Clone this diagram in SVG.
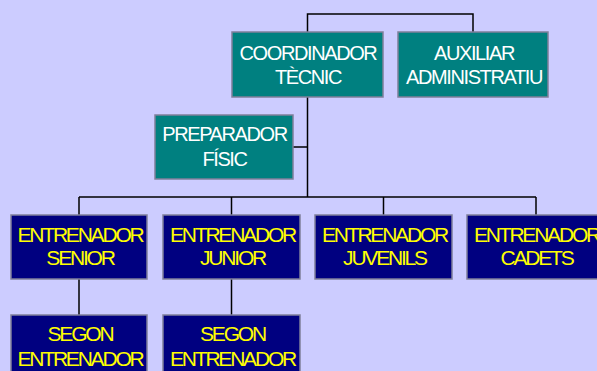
<svg xmlns="http://www.w3.org/2000/svg" width="597" height="371" viewBox="0 0 597 371">
  <style>
    .bg { fill: #CCCCFF; }
    .teal { fill: #008080; stroke: #7F7F9A; stroke-width: 1.5; }
    .navy { fill: #000080; stroke: #7F7F9A; stroke-width: 1.5; }
    .conn { fill: none; stroke: #000000; stroke-width: 1.5; }
    text { font-family: "Liberation Sans", Arial, sans-serif; text-anchor: middle; }
    .w { fill: #FFFFFF; font-size: 20px; letter-spacing: -1.4px; }
    .y { fill: #FFFF00; font-size: 21px; letter-spacing: -2.2px; }
  </style>
  <rect class="bg" x="0" y="0" width="597" height="371"/>

  <g id="connectors">
    <polyline class="conn" points="307.5,32 307.5,14 473,14 473,32"/>
    <line class="conn" x1="307.5" y1="97" x2="307.5" y2="197"/>
    <line class="conn" x1="293" y1="147" x2="307.5" y2="147"/>
    <line class="conn" x1="79" y1="197" x2="536" y2="197"/>
    <line class="conn" x1="79" y1="197" x2="79" y2="215"/>
    <line class="conn" x1="231.5" y1="197" x2="231.5" y2="215"/>
    <line class="conn" x1="383.5" y1="197" x2="383.5" y2="215"/>
    <line class="conn" x1="536" y1="197" x2="536" y2="215"/>
    <line class="conn" x1="79" y1="279" x2="79" y2="315"/>
    <line class="conn" x1="231.5" y1="279" x2="231.5" y2="315"/>
  </g>

  <g id="coordinador">
    <rect class="teal" x="232" y="32" width="151" height="65"/>
    <text class="w" x="308" y="59.5">COORDINADOR</text>
    <text class="w" x="308" y="83.5">TÈCNIC</text>
  </g>

  <g id="auxiliar">
    <rect class="teal" x="398" y="32" width="150" height="65"/>
    <text class="w" x="474" y="59.5">AUXILIAR</text>
    <text class="w" x="474" y="83.5">ADMINISTRATIU</text>
  </g>

  <g id="preparador">
    <rect class="teal" x="155" y="115" width="138" height="64"/>
    <text class="w" x="224.5" y="141">PREPARADOR</text>
    <text class="w" x="224.5" y="165.5">FÍSIC</text>
  </g>

  <g id="entrenador-senior">
    <rect class="navy" x="11" y="215" width="136" height="64"/>
    <text class="y" x="80" y="241.5">ENTRENADOR</text>
    <text class="y" x="80" y="265">SENIOR</text>
  </g>

  <g id="entrenador-junior">
    <rect class="navy" x="163" y="215" width="137" height="64"/>
    <text class="y" x="232.5" y="241.5">ENTRENADOR</text>
    <text class="y" x="232.5" y="265">JUNIOR</text>
  </g>

  <g id="entrenador-juvenils">
    <rect class="navy" x="315" y="215" width="137" height="64"/>
    <text class="y" x="384.5" y="241.5">ENTRENADOR</text>
    <text class="y" x="384.5" y="265">JUVENILS</text>
  </g>

  <g id="entrenador-cadets">
    <rect class="navy" x="467" y="215" width="137" height="64"/>
    <text class="y" x="536.5" y="241.5">ENTRENADOR</text>
    <text class="y" x="536.5" y="265">CADETS</text>
  </g>

  <g id="segon-senior">
    <rect class="navy" x="11" y="315" width="136" height="64"/>
    <text class="y" x="80" y="341">SEGON</text>
    <text class="y" x="80" y="365.5">ENTRENADOR</text>
  </g>

  <g id="segon-junior">
    <rect class="navy" x="163" y="315" width="137" height="64"/>
    <text class="y" x="232.5" y="341">SEGON</text>
    <text class="y" x="232.5" y="365.5">ENTRENADOR</text>
  </g>
</svg>
